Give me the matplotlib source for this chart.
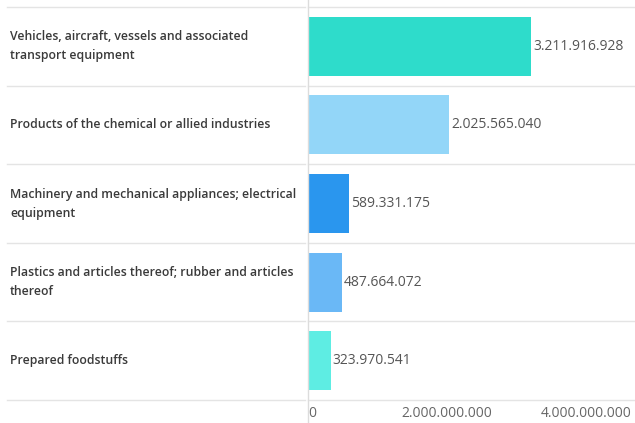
import matplotlib
matplotlib.use("Agg")
import matplotlib.pyplot as plt

plt.rcParams['font.family'] = ['Open Sans', 'DejaVu Sans']

categories = [
    "Vehicles, aircraft, vessels and associated\ntransport equipment",
    "Products of the chemical or allied industries",
    "Machinery and mechanical appliances; electrical\nequipment",
    "Plastics and articles thereof; rubber and articles\nthereof",
    "Prepared foodstuffs",
]
values = [3211916928, 2025565040, 589331175, 487664072, 323970541]
colors = ["#2edccb", "#93d6f8", "#2a96ee", "#6ab8f6", "#5eede3"]
xticks = [0, 2000000000, 4000000000]


def fmt(v):
    return f"{v:,}".replace(",", ".")


W, H = 635, 423
fig = plt.figure(figsize=(W / 100, H / 100), dpi=100)
ax = fig.add_axes([308 / W, 23 / H, 1 - 308 / W, 393 / H])

y = list(range(len(categories)))
ax.barh(y, values, height=0.75, color=colors)
ax.set_ylim(len(categories) - 0.5, -0.5)
ax.set_xlim(0, 4.7e9)

for i, (cat, v) in enumerate(zip(categories, values)):
    ax.annotate(fmt(v), (v, i), xytext=(1.5, 0), textcoords="offset points",
                va="center", ha="left", fontsize=10, color="#555555")
    ax.text(-298 / 327, i, cat, transform=ax.get_yaxis_transform(),
            va="center", ha="left", fontsize=8.8, color="#3a3a3a",
            fontweight="semibold", linespacing=1.6)

# row separators
seps = [k - 0.5 for k in range(len(categories) + 1)]
tr = ax.get_yaxis_transform()
for s in seps:
    ax.plot([-301 / 327, -3 / 327], [s, s], transform=tr, color="#e4e4e4",
            lw=1, clip_on=False)
    ax.plot([0, 1], [s, s], transform=tr, color="#e4e4e4", lw=1, clip_on=False)

ax.plot([0, 0], [-0.62, 5.65], color="#dcdcdc", lw=1, clip_on=False)

for sp in ax.spines.values():
    sp.set_visible(False)
ax.set_yticks([])
ax.set_xticks(xticks)
ax.set_xticklabels([fmt(t) for t in xticks], fontsize=10, color="#666666")
ax.tick_params(axis="x", length=0, pad=4)
ax.get_xticklabels()[0].set_horizontalalignment("left")

fig.savefig("out.png", dpi=100)
